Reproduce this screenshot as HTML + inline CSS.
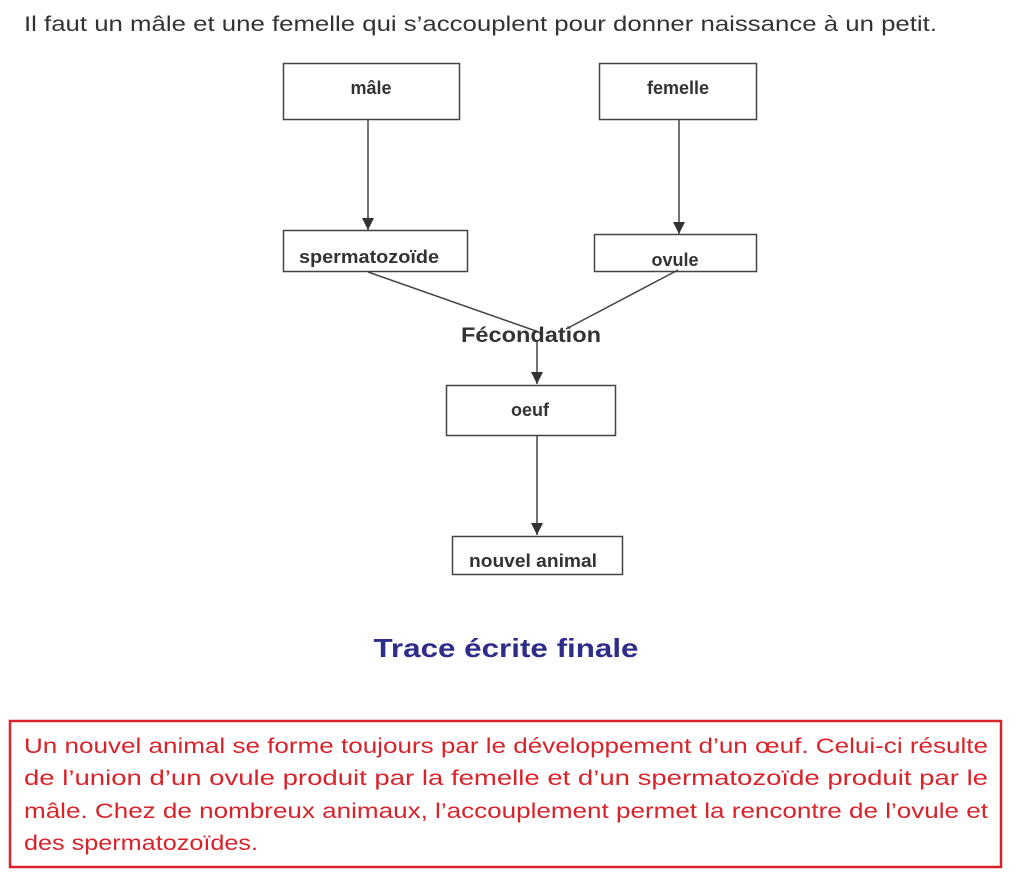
<!DOCTYPE html>
<html><head><meta charset="utf-8"><style>
html,body{margin:0;padding:0;background:#fff;width:1024px;height:878px;overflow:hidden}
svg{display:block}
</style></head><body>
<svg width="1024" height="878" viewBox="0 0 1024 878" xmlns="http://www.w3.org/2000/svg" font-family="Liberation Sans, sans-serif">
<defs><marker id="a" markerWidth="12" markerHeight="12" refX="12" refY="6" orient="auto" markerUnits="userSpaceOnUse"><path d="M0,0 L12,6 L0,12 Z" fill="#333"/></marker></defs>
<text x="24" y="31" font-size="21" fill="#333" textLength="913" lengthAdjust="spacingAndGlyphs">Il faut un mâle et une femelle qui s’accouplent pour donner naissance à un petit.</text>
<g fill="none" stroke="#444" stroke-width="1.5">
<rect x="283.5" y="63.5" width="176" height="56"/>
<rect x="599.5" y="63.5" width="157" height="56"/>
<rect x="283.5" y="230.5" width="184" height="41"/>
<rect x="594.5" y="234.5" width="162" height="37"/>
<rect x="446.5" y="385.5" width="169" height="50"/>
<rect x="452.5" y="536.5" width="170" height="38"/>
<line x1="368" y1="120" x2="368" y2="230" marker-end="url(#a)"/>
<line x1="679" y1="120" x2="679" y2="234" marker-end="url(#a)"/>
<line x1="368" y1="272" x2="536" y2="331"/>
<line x1="678" y1="270" x2="566" y2="329"/>
<line x1="537" y1="340" x2="537" y2="384" marker-end="url(#a)"/>
<line x1="537" y1="436" x2="537" y2="535" marker-end="url(#a)"/>
</g>
<g font-weight="bold" fill="#333" font-size="18" text-anchor="middle">
<text x="371" y="94">mâle</text>
<text x="678" y="94">femelle</text>
<text x="369" y="263" textLength="140" lengthAdjust="spacingAndGlyphs">spermatozoïde</text>
<text x="675" y="266">ovule</text>
<text x="530" y="416">oeuf</text>
<text x="533" y="567" textLength="128" lengthAdjust="spacingAndGlyphs">nouvel animal</text>
<text x="531" y="342" font-size="21" textLength="140" lengthAdjust="spacingAndGlyphs">Fécondation</text>
</g>
<text x="506" y="657" font-size="26" font-weight="bold" fill="#2e2e8a" text-anchor="middle" textLength="265" lengthAdjust="spacingAndGlyphs">Trace écrite finale</text>
<rect x="10" y="721" width="991" height="146" fill="none" stroke="#d8232a" stroke-width="2.5"/>
<g fill="#d8232a" font-size="21">
<text x="24" y="753" textLength="964" lengthAdjust="spacingAndGlyphs">Un nouvel animal se forme toujours par le développement d’un œuf. Celui-ci résulte</text>
<text x="24" y="785" textLength="964" lengthAdjust="spacingAndGlyphs">de l’union d’un ovule produit par la femelle et d’un spermatozoïde produit par le</text>
<text x="24" y="818" textLength="964" lengthAdjust="spacingAndGlyphs">mâle. Chez de nombreux animaux, l’accouplement permet la rencontre de l’ovule et</text>
<text x="24" y="850" textLength="234" lengthAdjust="spacingAndGlyphs">des spermatozoïdes.</text>
</g>
</svg>
</body></html>
